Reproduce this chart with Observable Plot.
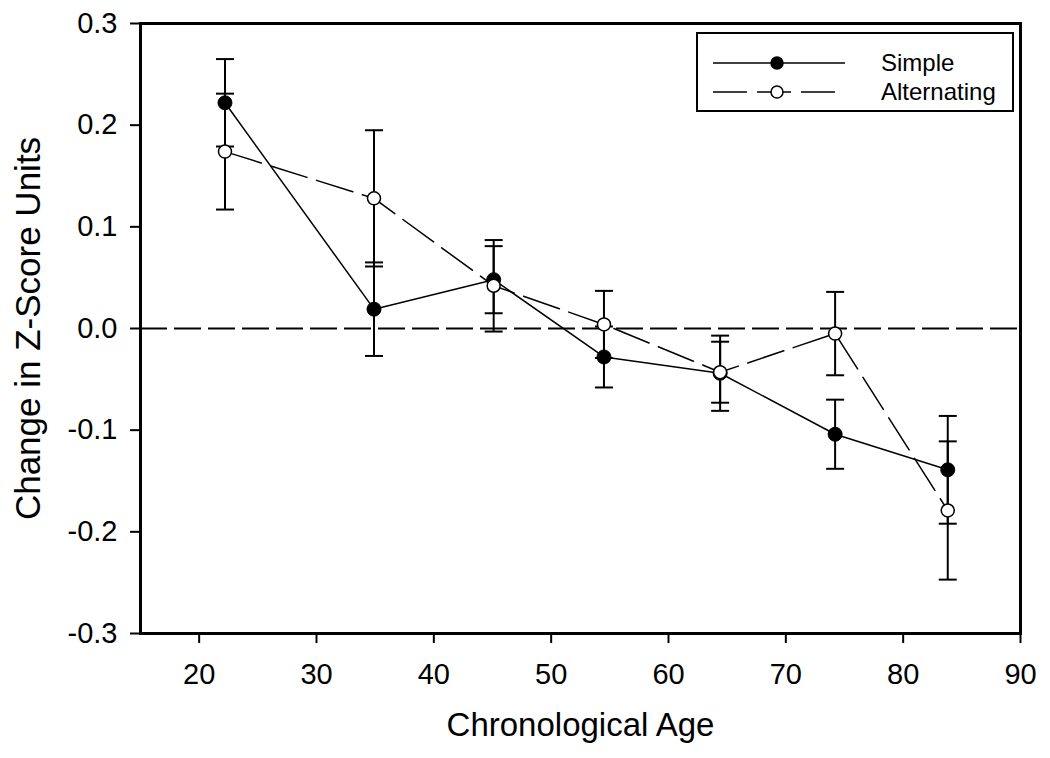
<!DOCTYPE html>
<html>
<head>
<meta charset="utf-8">
<script src="https://cdn.jsdelivr.net/npm/d3@7"></script>
<script src="https://cdn.jsdelivr.net/npm/@observablehq/plot@0.6"></script>
<style>
  html, body { margin: 0; padding: 0; background: #fff; }
  #wrap { position: relative; width: 1050px; height: 758px; }
  #legend { position: absolute; left: 0; top: 0; pointer-events: none; }
</style>
</head>
<body>
<div id="wrap"></div>
<script>
// ---- data ----
const ages = [22.2, 34.9, 45.1, 54.5, 64.4, 74.2, 83.8];
const simpleMean = [0.222, 0.019, 0.048, -0.028, -0.044, -0.104, -0.139];
const simpleErr  = [0.043, 0.046, 0.033, 0.030, 0.037, 0.034, 0.053];
const altMean    = [0.174, 0.128, 0.042, 0.004, -0.043, -0.005, -0.179];
const altErr     = [0.057, 0.067, 0.045, 0.033, 0.030, 0.041, 0.068];
const seriesNames = ["Simple", "Alternating"];
const xTicks = [20, 30, 40, 50, 60, 70, 80, 90];
const yTicks = [-0.3, -0.2, -0.1, 0.0, 0.1, 0.2, 0.3];
const xTitle = "Chronological Age";
const yTitle = "Change in Z-Score Units";

// ---- build tables ----
const simpleRows = ages.map((a, i) => ({age: a, mean: simpleMean[i], se: simpleErr[i], series: seriesNames[0]}));
const altRows = ages.map((a, i) => ({age: a, mean: altMean[i], se: altErr[i], series: seriesNames[1]}));
const allRows = simpleRows.concat(altRows);
const capRows = allRows.flatMap(d => [{age: d.age, v: d.mean - d.se}, {age: d.age, v: d.mean + d.se}]);

const capSymbol = {
  draw(ctx, size) {
    const w = Math.sqrt(size / Math.PI);
    ctx.moveTo(-w, 0);
    ctx.lineTo(w, 0);
  }
};

const font = "'Liberation Sans', Arial, Helvetica, sans-serif";

const chart = Plot.plot({
  width: 1050,
  height: 758,
  marginLeft: 140,
  marginRight: 30,
  marginTop: 23,
  marginBottom: 125,
  style: {fontFamily: font, fontSize: "29px", color: "black", background: "white"},
  x: {domain: [15, 90]},
  y: {domain: [-0.3, 0.3]},
  marks: [
    Plot.ruleY([0], {stroke: "black", strokeWidth: 2, strokeDasharray: "27,7"}),
    Plot.line(simpleRows, {x: "age", y: "mean", stroke: "black", strokeWidth: 1.5}),
    Plot.line(altRows, {x: "age", y: "mean", stroke: "black", strokeWidth: 1.5, strokeDasharray: "38,10"}),
    Plot.ruleX(allRows, {x: "age", y1: d => d.mean - d.se, y2: d => d.mean + d.se, stroke: "black", strokeWidth: 2}),
    Plot.dot(capRows, {x: "age", y: "v", symbol: capSymbol, r: 9, stroke: "black", fill: "none", strokeWidth: 2}),
    Plot.dot(simpleRows, {x: "age", y: "mean", r: 7, fill: "black", stroke: "black", strokeWidth: 1}),
    Plot.dot(altRows, {x: "age", y: "mean", r: 6.5, fill: "white", stroke: "black", strokeWidth: 1.5}),
    Plot.axisX({ticks: xTicks, tickSize: 10, tickPadding: 20, strokeWidth: 2, label: null}),
    Plot.axisY({ticks: yTicks, tickFormat: d => d.toFixed(1), tickSize: 10, tickPadding: 13, strokeWidth: 2, label: null}),
    Plot.frame({stroke: "black", strokeWidth: 3}),
    Plot.text([xTitle], {frameAnchor: "bottom", dy: 92, fontSize: 33, lineAnchor: "middle", textAnchor: "middle", fill: "black"}),
    Plot.text([yTitle], {frameAnchor: "left", dx: -112, rotate: -90, fontSize: 35, lineAnchor: "middle", textAnchor: "middle", fill: "black"})
  ]
});

const wrap = document.getElementById("wrap");
wrap.appendChild(chart);

// ---- legend overlay (inside plot area, top-right) ----
const lg = d3.select(wrap).append("svg")
  .attr("id", "legend")
  .attr("width", 1050).attr("height", 758)
  .attr("font-family", font);
lg.append("rect").attr("x", 697).attr("y", 33).attr("width", 316).attr("height", 78)
  .attr("fill", "white").attr("stroke", "black").attr("stroke-width", 2);
const legendItems = [
  {name: seriesNames[0], y: 63, dash: null, fill: "black"},
  {name: seriesNames[1], y: 92, dash: "34,10", fill: "white"}
];
legendItems.forEach(it => {
  lg.append("line").attr("x1", 713).attr("x2", 845).attr("y1", it.y).attr("y2", it.y)
    .attr("stroke", "black").attr("stroke-width", 1.5)
    .attr("stroke-dasharray", it.dash);
  lg.append("circle").attr("cx", 777).attr("cy", it.y).attr("r", 6)
    .attr("fill", it.fill).attr("stroke", "black").attr("stroke-width", 1.5);
  lg.append("text").attr("x", 881).attr("y", it.y).attr("dy", "0.35em")
    .attr("font-size", 24).attr("fill", "black").text(it.name);
});
</script>
</body>
</html>
